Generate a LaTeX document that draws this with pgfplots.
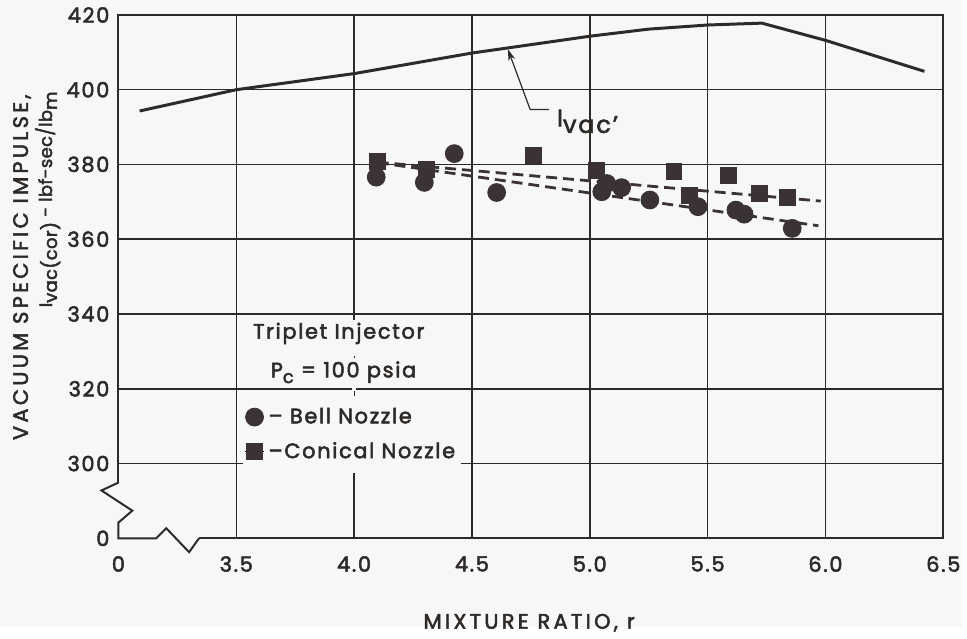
\documentclass[border=0pt]{standalone}
\usepackage{pgfplots}
\pgfplotsset{compat=1.18}
\usepackage{fontspec}
\usetikzlibrary{arrows.meta}
\setmainfont{Poppins}[LetterSpace=8, FakeBold=2.5]
\newfontfamily\lblfont{Poppins}[LetterSpace=16, FakeBold=2.5]
\newfontfamily\unitfont{Poppins}[LetterSpace=2, FakeBold=2.5]
\definecolor{paper}{RGB}{247,247,247}
\definecolor{ink}{RGB}{45,42,40}
\definecolor{dot}{RGB}{58,50,54}

\begin{document}
\begin{tikzpicture}
% page background
\fill[paper] (-59.5pt,-44.5pt) rectangle (424pt,270.5pt);
\begin{axis}[
  scale only axis, width=414.5pt, height=263pt,
  xmin=3, xmax=6.5, ymin=280, ymax=420,
  axis line style={draw=none},
  xtick={3,3.5,4,4.5,5,5.5,6,6.5},
  xticklabels={0,3.5,4.0,4.5,5.0,5.5,6.0,6.5},
  ytick={280,300,320,340,360,380,400,420},
  yticklabels={0,300,320,340,360,380,400,420},
  major tick length=0pt,
  xticklabel style={font=\fontsize{10.5}{12}\selectfont, text=ink, yshift=-5.5pt},
  yticklabel style={font=\fontsize{10.5}{12}\selectfont, text=ink, xshift=-1pt},
  clip=false,
  legend style={at={(axis cs:3.525,316.6)}, anchor=north west, draw=none,
    fill=paper, font=\fontsize{10.5}{12}\selectfont, text=ink,
    inner xsep=1pt, inner ysep=1pt, row sep=4pt},
  legend cell align=left,
  legend image code/.code={\path (0,0) -- (0.34cm,0);
    \draw[#1] plot coordinates {(0.17cm,0cm)};},
]
% grid
\pgfplotsinvokeforeach{3.5,4,4.5,5,5.5,6}{
  \draw[ink, line width=0.75pt] (axis cs:#1,280) -- (axis cs:#1,420);
}
\pgfplotsinvokeforeach{300,320,340,360,380,400}{
  \draw[ink, line width=0.75pt] (axis cs:3,#1) -- (axis cs:6.5,#1);
}
% the 4.0 rule is only faintly ruled through the legend block
\draw[paper, line width=2pt] (axis cs:4,297.5) -- (axis cs:4,338.5);
\draw[ink, line width=0.5pt, dash pattern=on 2.5pt off 15pt] (axis cs:4,338) -- (axis cs:4,298);
% frame with broken left and bottom axes
\draw[ink, line width=1pt] (axis cs:3,294.9) -- (axis cs:3,420) -- (axis cs:6.5,420) -- (axis cs:6.5,280) -- (axis cs:3.342,280);
\draw[ink, line width=1pt] (axis cs:3,294.9) -- (axis cs:2.928,292.8) -- (axis cs:3.059,287.4) -- (axis cs:3,284.2) -- (axis cs:3,280) -- (axis cs:3.160,280) -- (axis cs:3.203,282.7) -- (axis cs:3.300,276.3) -- (axis cs:3.342,280);

% legend heading
\node[fill=paper, inner sep=1.5pt, text=ink, font=\fontsize{10.5}{12}\selectfont] at (axis cs:3.935,334.8) {Triplet Injector};
\node[fill=paper, inner sep=1.5pt, text=ink, font=\fontsize{10.5}{12}\selectfont] at (axis cs:3.955,324.4) {P\raisebox{-0.5ex}{\fontsize{9}{10}\selectfont c} = 100 psia};

% theoretical curve
\addplot[ink, line width=1.5pt, forget plot] coordinates {
  (3.09,394.3) (3.5,400.0) (4.0,404.3) (4.5,409.8) (5.0,414.3)
  (5.25,416.2) (5.5,417.3) (5.73,417.8) (6.0,413.2) (6.42,404.9)};
\draw[ink, line width=0.6pt, -{Stealth[length=6pt,width=3.5pt]}]
  (axis cs:4.827,394.7) -- (axis cs:4.747,394.7) -- (axis cs:4.652,410.9);
\node[anchor=base west, text=ink, font=\fontsize{12}{14}\selectfont, inner sep=0pt] at (axis cs:4.86,390.2) {I\raisebox{-0.5ex}{vac'}};

% fitted lines
\addplot[dot, line width=1.4pt, dash pattern=on 5.5pt off 3pt, forget plot] coordinates {(4.10,380.6) (5.98,370.2)};
\addplot[dot, line width=1.4pt, dash pattern=on 5.5pt off 3pt, forget plot] coordinates {(4.10,380.5) (5.97,363.6)};

% test points
\addplot[only marks, mark=*, mark size=4.5pt, mark options={fill=dot, draw=dot}] coordinates {
  (4.094,376.6) (4.298,375.2) (4.425,382.9) (4.605,372.5)
  (5.051,372.7) (5.072,374.9) (5.135,373.8) (5.255,370.5)
  (5.459,368.7) (5.620,367.8) (5.655,366.7) (5.859,362.9)};
\addlegendentry{-- Bell Nozzle}
\addplot[only marks, mark=square*, mark size=4pt, mark options={fill=dot, draw=dot}] coordinates {
  (4.098,380.7) (4.305,378.7) (4.762,382.5) (5.030,378.5)
  (5.357,378.2) (5.423,371.8) (5.589,377.0) (5.719,372.3) (5.838,371.1)};
\addlegendentry{--Conical Nozzle}

% axis titles
\node[anchor=center, text=ink, font=\lblfont\fontsize{10.5}{12}\selectfont] at (axis cs:4.743,257.4) {MIXTURE RATIO, r};
\node[anchor=east, rotate=90, text=ink, font=\lblfont\fontsize{10.5}{12}\selectfont] at (axis cs:2.591,400.6) {VACUUM SPECIFIC IMPULSE,};
\node[anchor=east, rotate=90, text=ink, font=\unitfont\fontsize{9}{11}\selectfont] at (axis cs:2.70,401.4) {I\raisebox{-0.5ex}{vac(cor)} - lbf-sec/lb\raisebox{-0.5ex}{m}};
\end{axis}
\end{tikzpicture}
\end{document}
